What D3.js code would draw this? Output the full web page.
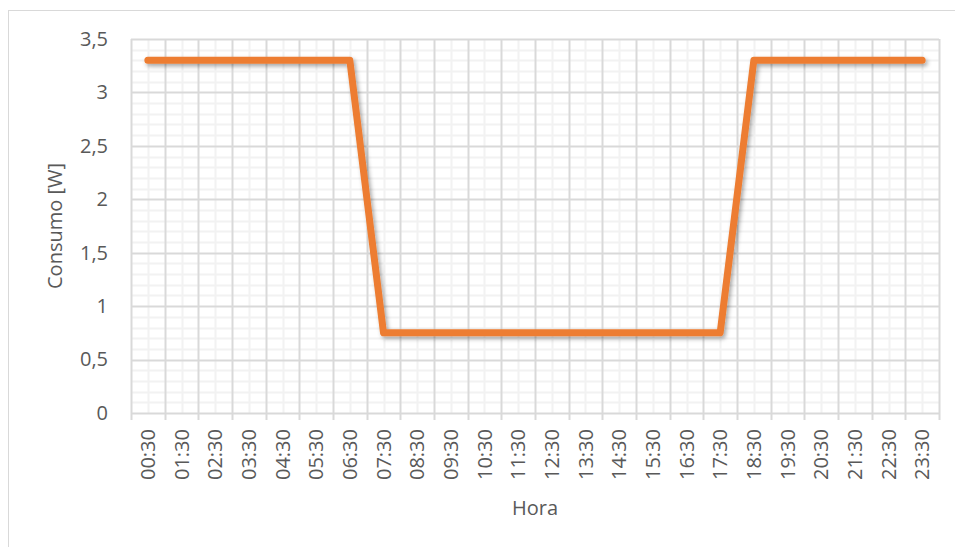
<!DOCTYPE html>
<html>
<head>
<meta charset="utf-8">
<script src="https://cdn.jsdelivr.net/npm/d3@7"></script>
<style>
  body { margin: 0; background: #fff; }
  text { font-family: "Open Sans", sans-serif; fill: #595959; }
</style>
</head>
<body>
<div id="chart"></div>
<script>
// data
var horas = ["00:30","01:30","02:30","03:30","04:30","05:30","06:30","07:30","08:30","09:30",
             "10:30","11:30","12:30","13:30","14:30","15:30","16:30","17:30","18:30","19:30",
             "20:30","21:30","22:30","23:30"];
var consumo = [3.3,3.3,3.3,3.3,3.3,3.3,3.3,0.75,0.75,0.75,
               0.75,0.75,0.75,0.75,0.75,0.75,0.75,0.75,3.3,3.3,
               3.3,3.3,3.3,3.3];
var yTicks = [0,0.5,1,1.5,2,2.5,3,3.5];

var W = 955, H = 547;
var margin = {top: 39, right: 16, bottom: 134, left: 131},
    width = W - margin.left - margin.right,
    height = H - margin.top - margin.bottom;

var svg = d3.select("#chart").append("svg")
    .attr("width", W).attr("height", H);

// chart border
svg.append("rect")
    .attr("x", 8.5).attr("y", 10.5)
    .attr("width", 960).attr("height", 560)
    .attr("fill", "none").attr("stroke", "#d9d9d9");

var defs = svg.append("defs");
defs.append("filter").attr("id", "shadow")
    .attr("x", "-10%").attr("y", "-10%").attr("width", "120%").attr("height", "130%")
  .append("feDropShadow")
    .attr("dx", 2).attr("dy", 2.5).attr("stdDeviation", 2)
    .attr("flood-color", "#000").attr("flood-opacity", 0.35);

var g = svg.append("g")
    .attr("transform", "translate(" + margin.left + "," + margin.top + ")");

var x = d3.scaleBand().domain(horas).range([0, width]);
var y = d3.scaleLinear().domain([0, 3.5]).range([height, 0]);

// minor horizontal grid (every 0.1)
var minorY = d3.range(0, 36).map(function(i){ return i / 10; })
    .filter(function(v, i){ return i % 5 !== 0; });
g.append("g").selectAll("line").data(minorY).enter().append("line")
    .attr("x1", 0).attr("x2", width)
    .attr("y1", function(d){ return Math.round(y(d)) + 0.5; })
    .attr("y2", function(d){ return Math.round(y(d)) + 0.5; })
    .attr("stroke", "#f2f2f2").attr("stroke-width", 2);

// minor vertical grid (category centres)
g.append("g").selectAll("line").data(horas).enter().append("line")
    .attr("x1", function(d){ return Math.round(x(d) + x.bandwidth()/2) + 0.5; })
    .attr("x2", function(d){ return Math.round(x(d) + x.bandwidth()/2) + 0.5; })
    .attr("y1", 0).attr("y2", height)
    .attr("stroke", "#f2f2f2").attr("stroke-width", 2);

// major horizontal grid
g.append("g").selectAll("line").data(yTicks).enter().append("line")
    .attr("x1", 0).attr("x2", width)
    .attr("y1", function(d){ return Math.round(y(d)) + 0.5; })
    .attr("y2", function(d){ return Math.round(y(d)) + 0.5; })
    .attr("stroke", "#d9d9d9").attr("stroke-width", 2);

// major vertical grid (category boundaries)
var bounds = horas.map(function(d){ return x(d); }).concat([width]);
g.append("g").selectAll("line").data(bounds).enter().append("line")
    .attr("x1", function(d){ return Math.round(d) + 0.5; })
    .attr("x2", function(d){ return Math.round(d) + 0.5; })
    .attr("y1", 0).attr("y2", height + 7)
    .attr("stroke", "#d9d9d9").attr("stroke-width", 2);

// y axis labels
var yAxis = g.append("g")
    .call(d3.axisLeft(y).tickValues(yTicks).tickSize(0).tickPadding(23)
        .tickFormat(function(d){ return String(d).replace(".", ","); }));
yAxis.select(".domain").remove();
yAxis.selectAll("text").style("font-size", "20px").attr("fill", "#595959");

// x axis labels
var xAxis = g.append("g")
    .attr("transform", "translate(0," + height + ")")
    .call(d3.axisBottom(x).tickSize(0));
xAxis.select(".domain").remove();
xAxis.selectAll("text")
    .style("font-size", "20px").attr("fill", "#595959")
    .attr("transform", "rotate(-90)")
    .attr("x", -16).attr("y", 0).attr("dy", "0.35em")
    .style("text-anchor", "end");

// line
var line = d3.line()
    .x(function(d, i){ return x(horas[i]) + x.bandwidth()/2; })
    .y(function(d){ return y(d); });
g.append("path")
    .datum(consumo)
    .attr("d", line)
    .attr("fill", "none")
    .attr("stroke", "#ed7d31")
    .attr("stroke-width", 7)
    .attr("stroke-linecap", "round")
    .attr("stroke-linejoin", "round")
    .attr("filter", "url(#shadow)");

// axis titles
svg.append("text")
    .attr("x", margin.left + width/2).attr("y", 515)
    .style("text-anchor", "middle").style("font-size", "20px")
    .text("Hora");
svg.append("text")
    .attr("transform", "translate(62," + (margin.top + height/2) + ") rotate(-90)")
    .style("text-anchor", "middle").style("font-size", "20px")
    .text("Consumo [W]");
</script>
</body>
</html>
